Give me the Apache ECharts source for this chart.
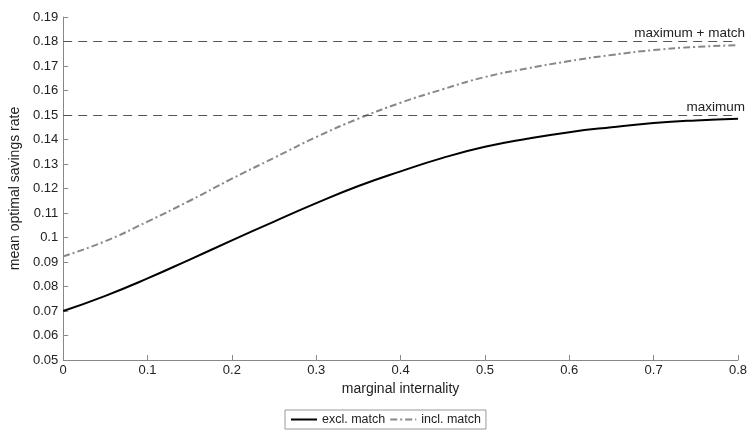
<!DOCTYPE html>
<html>
<head>
	<meta charset="utf-8">
	<title>savings rate</title>
	<script src="https://cdn.jsdelivr.net/npm/echarts@6/dist/echarts.min.js"></script>
	<style>body{margin:0;background:#fff;}</style>
</head>
<body>
	<div id="main" style="height: 435px; width: 753px;"></div>
	<script type="text/javascript">
		// marginal internality grid
		var xs = [0, 0.05, 0.1, 0.15, 0.2, 0.25, 0.3, 0.35, 0.4, 0.45, 0.5, 0.55, 0.6, 0.65, 0.7, 0.75, 0.8];
		var exclMatch = [0.070, 0.0762, 0.0833, 0.091, 0.0988, 0.1065, 0.114, 0.121, 0.127, 0.1325, 0.137, 0.1403, 0.143, 0.145, 0.1467, 0.1478, 0.1485];
		var inclMatch = [0.0923, 0.0985, 0.1065, 0.115, 0.124, 0.1325, 0.141, 0.1485, 0.155, 0.1605, 0.1655, 0.169, 0.172, 0.1745, 0.1765, 0.1778, 0.1785];
		var caps = [0.15, 0.18];
		var capLabels = ['maximum', 'maximum + match'];

		function pairs(ys) {
			return xs.map(function (x, i) { return [x, ys[i]]; });
		}

		var font = 'Liberation Sans, Arial, sans-serif';
		var myChart = echarts.init(document.getElementById('main'));
		var option = {
			animation: false,
			textStyle: { fontFamily: font },
			grid: { left: 60, right: 15, top: 17, bottom: 75 },
			legend: {
				bottom: 6,
				left: 285,
				data: ['excl. match', 'incl. match'],
				itemWidth: 26,
				itemHeight: 10,
				itemGap: 4,
				padding: [3, 5],
				borderColor: '#999',
				borderWidth: 1,
				borderRadius: 0,
				itemStyle: { opacity: 0 },
				textStyle: { fontSize: 12.5, color: '#222' }
			},
			xAxis: {
				type: 'value',
				min: 0, max: 0.8, interval: 0.1,
				name: 'marginal internality',
				nameLocation: 'center',
				nameGap: 20,
				nameTextStyle: { fontSize: 14, color: '#222' },
				axisLine: { lineStyle: { color: '#888' } },
				axisTick: { inside: true, length: 5, lineStyle: { color: '#888' } },
				axisLabel: { fontSize: 13, color: '#222', margin: 4, formatter: function (v) { return String(+v.toFixed(2)); } },
				splitLine: { show: false }
			},
			yAxis: {
				type: 'value',
				min: 0.05, max: 0.19, interval: 0.01,
				name: 'mean optimal savings rate',
				nameLocation: 'center',
				nameGap: 38,
				nameTextStyle: { fontSize: 14, color: '#222' },
				axisLine: { show: true, lineStyle: { color: '#888' } },
				axisTick: { show: true, inside: true, length: 5, lineStyle: { color: '#888' } },
				axisLabel: { fontSize: 13, color: '#222', margin: 5, formatter: function (v) { return String(+v.toFixed(2)); } },
				splitLine: { show: false }
			},
			series: [
				{
					name: 'excl. match',
					type: 'line',
					data: pairs(exclMatch),
					smooth: true,
					showSymbol: false,
					symbol: 'none',
					color: '#000',
					lineStyle: { color: '#000', width: 2 },
					markLine: {
						silent: true,
						symbol: 'none',
						lineStyle: { color: '#555', type: [9, 6], width: 1 },
						label: {
							position: 'insideEndTop',
							distance: [-7, 1],
							fontSize: 13.5,
							color: '#222',
							formatter: function (p) { return p.name; }
						},
						data: caps.map(function (c, i) { return { name: capLabels[i], yAxis: c }; })
					}
				},
				{
					name: 'incl. match',
					type: 'line',
					data: pairs(inclMatch),
					smooth: true,
					showSymbol: false,
					symbol: 'none',
					color: '#888',
					lineStyle: { color: '#888', width: 2, type: [7, 3, 2, 3] }
				}
			]
		};
		myChart.setOption(option);
	</script>
</body>
</html>
